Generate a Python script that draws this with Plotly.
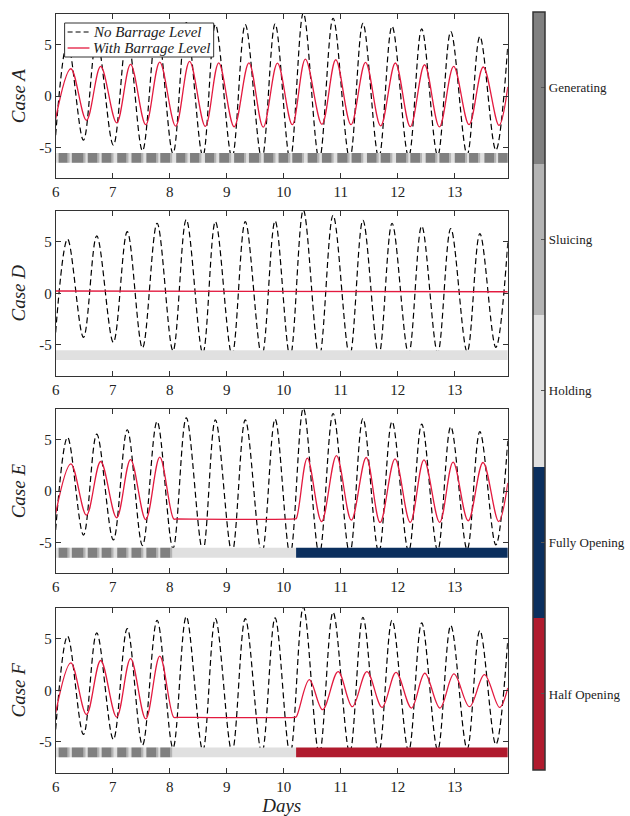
import plotly.graph_objects as go

# ---------------- data ----------------
tide_t = [6.0, 6.209, 6.488, 6.721, 7.012, 7.256, 7.523, 7.779, 8.058, 8.291, 8.581, 8.802,
          9.093, 9.326, 9.616, 9.849, 10.112, 10.344, 10.623, 10.866, 11.157, 11.389, 11.667,
          11.90, 12.19, 12.42, 12.70, 12.93, 13.217, 13.44, 13.72, 13.93]
tide_v = [-3.8, 5.26, -4.29, 5.58, -4.77, 6.0, -5.32, 6.81, -5.6, 7.17, -5.85, 6.97,
          -6.0, 6.97, -6.1, 7.04, -6.2, 8.1, -6.2, 7.59, -6.1, 7.1, -6.0,
          6.81, -5.9, 6.55, -5.8, 6.3, -5.7, 5.81, -5.26, 4.93]

early_t = [6.0, 6.267, 6.54, 6.79, 7.07, 7.314, 7.58, 7.826]
early_v = [-2.2, 2.67, -2.35, 2.9, -2.6, 3.09, -2.78, 3.32]

caseA_t = early_t + [8.105, 8.349, 8.625, 8.86, 9.13, 9.39, 9.64, 9.89, 10.15, 10.38, 10.67,
                     10.913, 11.18, 11.435, 11.70, 11.958, 12.22, 12.47, 12.73, 12.98, 13.25,
                     13.5, 13.775, 13.93]
caseA_v = early_v + [-2.92, 3.38, -2.95, 3.25, -2.98, 3.25, -3.02, 3.22, -2.78, 3.6, -2.75,
                     3.55, -2.78, 3.3, -2.9, 3.23, -2.97, 3.06, -3.0, 2.9, -2.78,
                     2.84, -2.84, 0.9]

caseD_t = [6.0, 10.0, 13.93]
caseD_v = [0.22, 0.2, 0.15]

caseE_t = early_t + [8.07, 8.12, 10.19, 10.22, 10.414, 10.664, 10.925, 11.186, 11.447, 11.69,
                     11.952, 12.219, 12.46, 12.735, 12.97, 13.235, 13.495, 13.77, 13.93]
caseE_v = early_v + [-2.72, -2.72, -2.72, -2.68, 3.23, -2.97, 3.48, -2.84, 3.29, -3.06,
                     3.16, -3.06, 3.06, -3.06, 2.84, -2.9, 2.8, -2.97, 0.8]

caseF_t = early_t + [8.07, 8.12, 10.19, 10.22, 10.449, 10.681, 10.954, 11.203, 11.459, 11.725,
                     11.97, 12.24, 12.474, 12.74, 12.985, 13.258, 13.52, 13.786, 13.93]
caseF_v = early_v + [-2.62, -2.62, -2.62, -2.58, 1.04, -1.88, 1.82, -1.59, 1.82, -1.66,
                     1.75, -1.72, 1.66, -1.72, 1.59, -1.59, 1.53, -1.66, 0.23]

# operating-mode timeline (days)
gen_start = [6.052, 6.284, 6.563, 6.807, 7.08, 7.33, 7.591, 7.835, 8.114, 8.357, 8.619, 8.869,
             9.13, 9.39, 9.65, 9.91, 10.15, 10.42, 10.67, 10.94, 11.19, 11.46, 11.70, 11.97,
             12.22, 12.49, 12.73, 13.00, 13.25, 13.52, 13.76]
gen_end = [6.209, 6.488, 6.732, 6.98, 7.242, 7.503, 7.765, 8.009, 8.277, 8.521, 8.782, 9.043,
           9.305, 9.57, 9.82, 10.08, 10.32, 10.59, 10.84, 11.12, 11.36, 11.63, 11.87, 12.15,
           12.39, 12.66, 12.90, 13.18, 13.41, 13.69, 13.93]
sluice_dur = 0.035
hold_start_EF = 8.05
open_start_EF = 10.217
t_min, t_max = 6.0, 13.93

modes = ["Half Opening", "Fully Opening", "Holding", "Sluicing", "Generating"]
mode_colors = ["#b01b2e", "#0b2f5e", "#e0e0e0", "#b4b4b4", "#808080"]
col = dict(zip(modes, mode_colors))

case_names = ["A", "D", "E", "F"]
with_series = [(caseA_t, caseA_v), (caseD_t, caseD_v), (caseE_t, caseE_v), (caseF_t, caseF_v)]
legend_labels = ["No Barrage Level", "With Barrage Level"]

# ---------------- figure ----------------
W, H = 630, 816
FONT = "Liberation Serif"
RED = "#e31a3f"
AX = "#333333"
TXT = "#222222"
STRIP_Y = -6.02
STRIP_W = 9.8
BLACK_DASH = "6px,3.5px"

fig = go.Figure()
ydoms = [[0.7815, 0.9828], [0.5398, 0.7414], [0.2978, 0.4984], [0.0531, 0.2549]]


def seg_trace(starts, ends, color, xa, ya):
    xs, ys = [], []
    for s, e in zip(starts, ends):
        xs += [s, e, None]
        ys += [STRIP_Y, STRIP_Y, None]
    return go.Scatter(x=xs, y=ys, mode="lines", line=dict(color=color, width=STRIP_W),
                      xaxis=xa, yaxis=ya, showlegend=False, hoverinfo="skip")


for i, name in enumerate(case_names):
    n = "" if i == 0 else str(i + 1)
    xa, ya = "x" + n, "y" + n
    fig.add_trace(go.Scatter(x=tide_t, y=tide_v, mode="lines", line_shape="spline",
                             line=dict(color="black", width=1.2, dash=BLACK_DASH),
                             name=legend_labels[0], showlegend=False,
                             xaxis=xa, yaxis=ya))
    wt, wv = with_series[i]
    fig.add_trace(go.Scatter(x=wt, y=wv, mode="lines",
                             line_shape=("linear" if name == "D" else "spline"),
                             line=dict(color=RED, width=1.3),
                             name=legend_labels[1], showlegend=False,
                             xaxis=xa, yaxis=ya))
    # operating-mode strips
    if name == "A":
        fig.add_trace(seg_trace([t_min], [t_max], col["Holding"], xa, ya))
        fig.add_trace(seg_trace(gen_end, [min(e + sluice_dur, t_max) for e in gen_end],
                                col["Sluicing"], xa, ya))
        fig.add_trace(seg_trace(gen_start, gen_end, col["Generating"], xa, ya))
    elif name == "D":
        fig.add_trace(seg_trace([t_min], [t_max], col["Holding"], xa, ya))
    else:
        gs = [s for s in gen_start if s < hold_start_EF]
        ge = [e for e in gen_end if e < hold_start_EF]
        fig.add_trace(seg_trace([t_min], [open_start_EF], col["Holding"], xa, ya))
        fig.add_trace(seg_trace(ge, [e + sluice_dur for e in ge], col["Sluicing"], xa, ya))
        fig.add_trace(seg_trace(gs, ge, col["Generating"], xa, ya))
        oc = col["Fully Opening"] if name == "E" else col["Half Opening"]
        fig.add_trace(seg_trace([open_start_EF], [t_max], oc, xa, ya))

    fig.layout["xaxis" + n] = dict(
        domain=[0.0825, 0.8048], anchor=ya, range=[t_min, t_max],
        tickvals=[6, 7, 8, 9, 10, 11, 12, 13], ticks="inside", ticklen=5,
        tickcolor=AX, showline=True, linecolor=AX, linewidth=1, mirror="ticks",
        showgrid=False, zeroline=False, tickfont=dict(family=FONT, size=15, color=TXT),
        title=(dict(text="<i>Days</i>", font=dict(family=FONT, size=19, color=TXT),
                    standoff=6) if i == 3 else None))
    fig.layout["yaxis" + n] = dict(
        domain=ydoms[i], anchor=xa, range=[-8, 8],
        tickvals=[-5, 0, 5], ticktext=["-5", "0", "5"], ticks="inside", ticklen=5,
        tickcolor=AX, showline=True, linecolor=AX, linewidth=1, mirror="ticks",
        showgrid=False, zeroline=False, tickfont=dict(family=FONT, size=15, color=TXT),
        title=dict(text="<i>Case " + name + "</i>", font=dict(family=FONT, size=19, color=TXT),
                   standoff=8))

# colorbar for operating modes
fig.add_trace(go.Scatter(
    x=[t_min], y=[0], mode="markers", showlegend=False, hoverinfo="skip",
    marker=dict(size=0.1, opacity=0, color=[0], cmin=0, cmax=5,
                colorscale=[[0.0, mode_colors[0]], [0.2, mode_colors[0]],
                            [0.2, mode_colors[1]], [0.4, mode_colors[1]],
                            [0.4, mode_colors[2]], [0.6, mode_colors[2]],
                            [0.6, mode_colors[3]], [0.8, mode_colors[3]],
                            [0.8, mode_colors[4]], [1.0, mode_colors[4]]],
                showscale=True,
                colorbar=dict(x=0.8444, xanchor="left", xpad=0, ypad=0,
                              y=0.5211, yanchor="middle", len=758, lenmode="pixels",
                              thickness=12, outlinewidth=1.5, outlinecolor=AX,
                              tickvals=[0.5, 1.5, 2.5, 3.5, 4.5], ticktext=modes,
                              ticks="inside", ticklen=4, tickcolor="#555",
                              tickfont=dict(family=FONT, size=13, color=TXT))),
    xaxis="x", yaxis="y"))

# compact legend box (drawn like the reference's legend)
def px(x):
    return x / W


def py(y):
    return 1 - y / H


shapes = [
    dict(type="rect", xref="paper", yref="paper", x0=px(61), x1=px(211), y0=py(57), y1=py(23),
         line=dict(color=AX, width=1), fillcolor="white", layer="above"),
    dict(type="line", xref="paper", yref="paper", x0=px(64), x1=px(86), y0=py(32), y1=py(32),
         line=dict(color="black", width=1.2, dash="5px,3px"), layer="above"),
    dict(type="line", xref="paper", yref="paper", x0=px(64), x1=px(86), y0=py(48), y1=py(48),
         line=dict(color=RED, width=1.3), layer="above"),
]
annotations = [
    dict(xref="paper", yref="paper", x=px(88), y=py(32), xanchor="left", yanchor="middle",
         text="<i>" + legend_labels[0] + "</i>", showarrow=False,
         font=dict(family=FONT, size=15, color=TXT)),
    dict(xref="paper", yref="paper", x=px(88), y=py(48), xanchor="left", yanchor="middle",
         text="<i>" + legend_labels[1] + "</i>", showarrow=False,
         font=dict(family=FONT, size=15, color=TXT)),
]

fig.update_layout(
    width=W, height=H, margin=dict(l=0, r=0, t=0, b=0),
    paper_bgcolor="white", plot_bgcolor="white",
    showlegend=False, shapes=shapes, annotations=annotations,
)

fig.write_html("out.html")
